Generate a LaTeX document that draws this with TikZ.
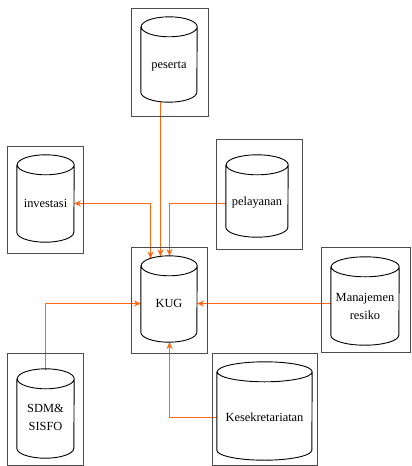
\documentclass[tikz,border=0pt]{standalone}
\usepackage{fontspec}
\setmainfont{Liberation Serif}
\usetikzlibrary{arrows.meta}
\definecolor{conn}{RGB}{255,105,20}
\begin{document}
\begin{tikzpicture}[x=1pt,y=1pt,
  tip/.tip={Stealth[length=7pt,width=6pt]},
  frame/.style={draw=black!70,line width=1pt,inner sep=0pt},
  cylside/.style={inner sep=0pt,draw=none},
  lbl/.style={font=\fontsize{12.4}{18}\selectfont,align=center,inner sep=0pt},
  cylline/.style={draw=black,line width=0.9pt},
  link/.style={draw=conn,line width=1.4pt,-tip},
]
\fill[white] (0,0) rectangle (412,-466);
\useasboundingbox (0,0) rectangle (412,-466);
% connector ends
\coordinate (pesout) at (160.5,-101.5);
\coordinate (kugin2) at (160.5,-256.5);
\coordinate (invin) at (74,-203.5);
\coordinate (kugin1) at (150.5,-258.7);
\coordinate (pelout) at (226,-203.5);
\coordinate (kugin3) at (169.5,-256);
\coordinate (manout) at (331,-303.5);
\coordinate (kugright) at (197,-303.5);
\coordinate (sdmout) at (45.5,-370);
\coordinate (kugleft) at (141,-303.5);
\coordinate (kesout) at (217,-417.5);
\coordinate (kugbot) at (169.5,-342);
% connectors
\draw[link] (manout) -- (kugright);
\draw[link] (sdmout) |- (kugleft);
\draw[link] (kesout) -| (kugbot);
\draw[link] (pelout) -| (kugin3);
\draw[link] (pesout) -- (kugin2);
\draw[link,tip-tip] (invin) -| (kugin1);
% frames
\node[frame,minimum width=77,minimum height=108] (pesF) at (169.5,-62) {};
\node[frame,minimum width=76,minimum height=107] (invF) at (45,-199.5) {};
\node[frame,minimum width=86,minimum height=110] (pelF) at (259,-194) {};
\node[frame,minimum width=76,minimum height=106] (kugF) at (169,-300) {};
\node[frame,minimum width=89,minimum height=105] (manF) at (365.5,-299.5) {};
\node[frame,minimum width=76,minimum height=112] (sdmF) at (45,-409) {};
\node[frame,minimum width=105,minimum height=112] (kesF) at (264.5,-409) {};
% cylinder bodies
\node[cylside,minimum width=56,minimum height=65] (pes) at (169,-59.5) {};
\node[cylside,minimum width=57,minimum height=67] (inv) at (45.5,-198.5) {};
\node[cylside,minimum width=62,minimum height=62] (pel) at (257,-196) {};
\node[cylside,minimum width=56,minimum height=66] (kug) at (169,-299) {};
\node[cylside,minimum width=68,minimum height=68] (man) at (365,-301) {};
\node[cylside,minimum width=57,minimum height=69] (sdm) at (45.5,-413.5) {};
\node[cylside,minimum width=95,minimum height=78] (kes) at (264.5,-411) {};
\foreach \n/\r in {pes/28,inv/28.5,pel/31,kug/28,man/34,sdm/28.5,kes/47.5}{
  \draw[cylline] (\n.north west) -- (\n.south west)
    arc[start angle=180,end angle=360,x radius=\r,y radius=10]
    -- (\n.north east)
    arc[start angle=0,end angle=360,x radius=\r,y radius=10];
}
% labels
\node[lbl] (pesT) at (169,-66) {peserta};
\node[lbl] (invT) at (45.5,-203) {investasi};
\node[lbl] (pelT) at (257,-203) {pelayanan};
\node[lbl] (kugT) at (169,-303) {KUG};
\node[lbl] (manT) at (365,-306) {Manajemen\\resiko};
\node[lbl] (sdmT) at (45.5,-417.5) {SDM\&\\SISFO};
\node[lbl] (kesT) at (264.5,-417) {Kesekretariatan};
\end{tikzpicture}
\end{document}
